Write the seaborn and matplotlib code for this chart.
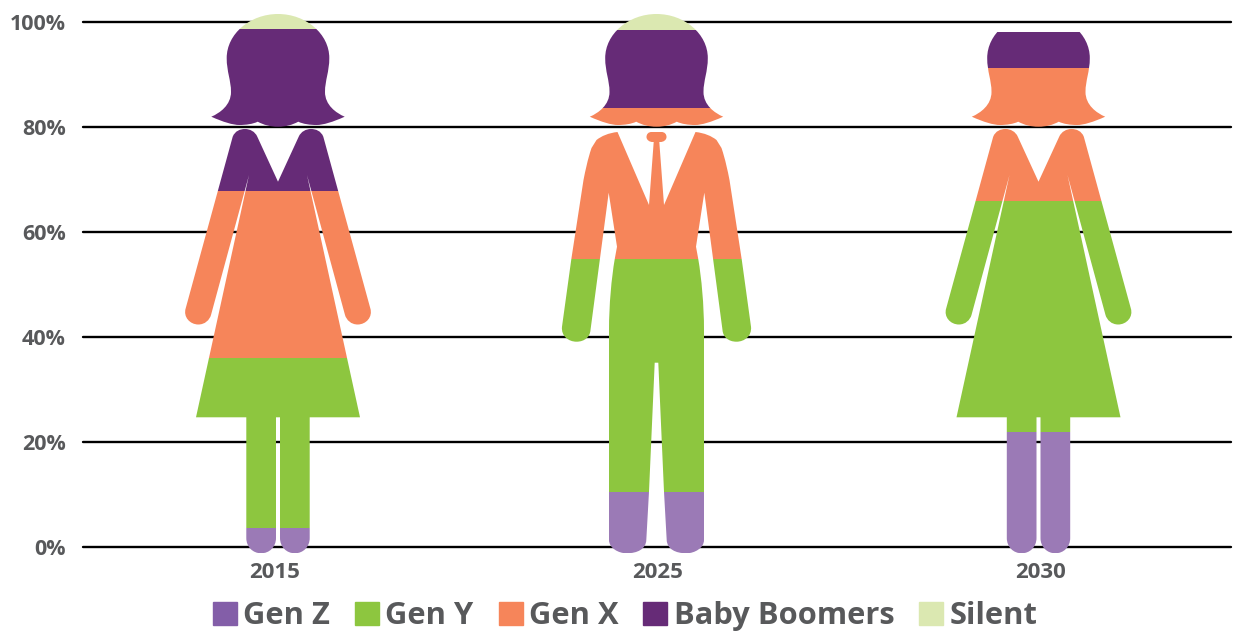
import numpy as np
import seaborn as sns
import matplotlib.pyplot as plt
from matplotlib.patches import Patch
from matplotlib.path import Path
from matplotlib.transforms import Affine2D

# Data, % of workforce by generation
years = ['2015', '2025', '2030']
generations = ['Gen Z', 'Gen Y', 'Gen X', 'Baby Boomers', 'Silent']
gen_z = [3.6, 10.5, 21.9]
gen_y = [32.4, 44.3, 44.0]
gen_x = [31.8, 28.9, 25.3]
boomers = [30.9, 14.8, 6.9]
silent = [2.8, 3.0, 0.0]
y_ticks = [0, 20, 40, 60, 80, 100]
# feet of the figures hang a little under the zero line
floor = -1.2

fill_colors = ['#9b7ab6', '#8dc63f', '#f6855a', '#662b77', '#dbe8b1']
legend_colors = ['#835ea8', '#8dc63f', '#f6855a', '#662b77', '#dbe8b1']
text_color = '#58595b'

W, H = 1233, 634


def outline(start, *steps):
    # one step with 1 point is a line, with 3 points a bezier curve
    verts, codes = [start], [Path.MOVETO]
    for step in steps:
        verts += list(step)
        codes += [Path.LINETO] if len(step) == 1 else [Path.CURVE4] * 3
    return Path(verts, codes)


def mirrored(half):
    # flatten the right half of a shape and close it with its mirror image
    pts = half.to_polygons(closed_only=False)[0]
    other = pts[::-1] * [-1, 1]
    return np.vstack([pts, other])


def silhouette(parts, cx):
    polys = [mirrored(p) + [cx, 0] for p in parts]
    return Path.make_compound_path(*[Path(p, closed=False) for p in polys])


# Shapes are the right half in pixels from the figure's centre line, y going down
head = outline(
    (0, 14),
    [(28, 14), (51.3, 34), (51.3, 58)],
    [(51.3, 72), (47, 80), (47, 92)],
    [(47, 105), (58, 113), (66.7, 116.7)],
    [(55, 122), (45, 125), (38.7, 125)],
    [(32, 125), (25, 124), (20.3, 121.7)],
    [(14, 125), (8, 126.7), (0, 126.7)],
)
woman_body = outline(
    (0, 181.7),
    [(20.7, 136.7)],
    [(23, 131.5), (28, 129), (33, 129)],
    [(38, 129), (43, 131), (45.3, 136.7)],
    [(92.3, 308.3)],
    [(95, 317), (88, 324.5), (79.7, 324.5)],
    [(73, 324.5), (68.5, 320), (67, 315)],
    [(29, 175)],
    [(82, 417.3)],
    [(31.7, 417.3)],
    [(31.7, 538)],
    [(31.7, 547), (25, 553.3), (16.85, 553.3)],
    [(8.7, 553.3), (2, 547), (2, 538)],
    [(2, 417.3)],
    [(0, 417.3)],
)
man_body = outline(
    (0, 132),
    [(5, 132)],
    [(8, 132), (10, 134), (10, 137)],
    [(10, 140), (7, 142), (4, 142)],
    [(2.8, 142)],
    [(7.5, 205)],
    [(39, 132)],
    [(48, 133), (55, 136), (60, 140)],
    [(65, 148)],
    [(69, 160), (71, 170), (73, 180)],
    [(85.2, 259.3)],
    [(94.5, 326.7)],
    [(95.5, 336), (88, 341.7), (80, 341.7)],
    [(72, 341.7), (66.5, 337), (66, 330)],
    [(47.8, 192.7)],
    [(39.5, 246.7)],
    [(41.8, 259.3)],
    [(45, 278), (47.5, 305), (47.5, 330)],
    [(47.5, 540)],
    [(47.5, 548), (38, 553.3), (30, 553.3)],
    [(19, 553.3), (10.6, 549), (10.2, 540)],
    [(7.5, 491.7)],
    [(1.8, 362.7)],
    [(0, 362.7)],
)

figures = [
    silhouette([head, woman_body], 278),
    silhouette([head, man_body], 656.5),
    silhouette([head, woman_body], 1038.5),
]
# pixel coordinates with y going down -> display coordinates
pixels = Affine2D().scale(1, -1).translate(0, H)

sns.set_theme(style='white')
plt.rcParams['font.family'] = ['Open Sans', 'DejaVu Sans']

fig = plt.figure(figsize=(W / 100, H / 100), dpi=100)
ax = fig.add_axes([83 / W, 1 - 547 / H, (1231 - 83) / W, (547 - 22) / H])

# Stacked bars, each one cut to the shape of its figure
values = np.array([gen_z, gen_y, gen_x, boomers, silent])
tops = values.cumsum(axis=0)
bases = np.vstack([np.full(3, floor), tops[:-1]])
for i, color in enumerate(fill_colors):
    before = len(ax.patches)
    sns.barplot(x=years, y=tops[i] - bases[i], color=color, saturation=1, width=0.9, ax=ax)
    for j, bar in enumerate(ax.patches[before:]):
        bar.set_y(bases[i][j])
        bar.set_linewidth(0)
        bar.set_clip_box(None)
        bar.set_clip_path(figures[j], pixels)

ax.set_xlim(-192 / 383, 2 + 190 / 383)
ax.set_ylim(0, 100)
ax.set_yticks(y_ticks)
ax.set_yticklabels([f'{t}%' for t in y_ticks])
ax.set_axisbelow(True)
ax.grid(axis='y', color='black', linewidth=1.7)
ax.grid(axis='x', visible=False)
for line in ax.get_ygridlines():
    line.set_clip_on(False)
sns.despine(ax=ax, left=True, bottom=True)
ax.tick_params(axis='y', length=0, pad=12.5, labelsize=15.5, labelcolor=text_color)
ax.tick_params(axis='x', length=0, pad=11, labelsize=16, labelcolor=text_color)
for label in ax.get_xticklabels() + ax.get_yticklabels():
    label.set_fontweight('bold')
ax.set_xlabel('')
ax.set_ylabel('')

handles = [Patch(color=c, label=g) for c, g in zip(legend_colors, generations)]
fig.legend(handles=handles, loc='lower left', bbox_to_anchor=(213 / W, 3 / H), ncol=5,
           frameon=False, borderpad=0, borderaxespad=0, handlelength=0.78,
           handleheight=0.78, handletextpad=0.2, columnspacing=0.81,
           prop={'size': 22.2, 'weight': 'bold'}, labelcolor=text_color)

plt.savefig('out.png', dpi=100)
plt.close()
